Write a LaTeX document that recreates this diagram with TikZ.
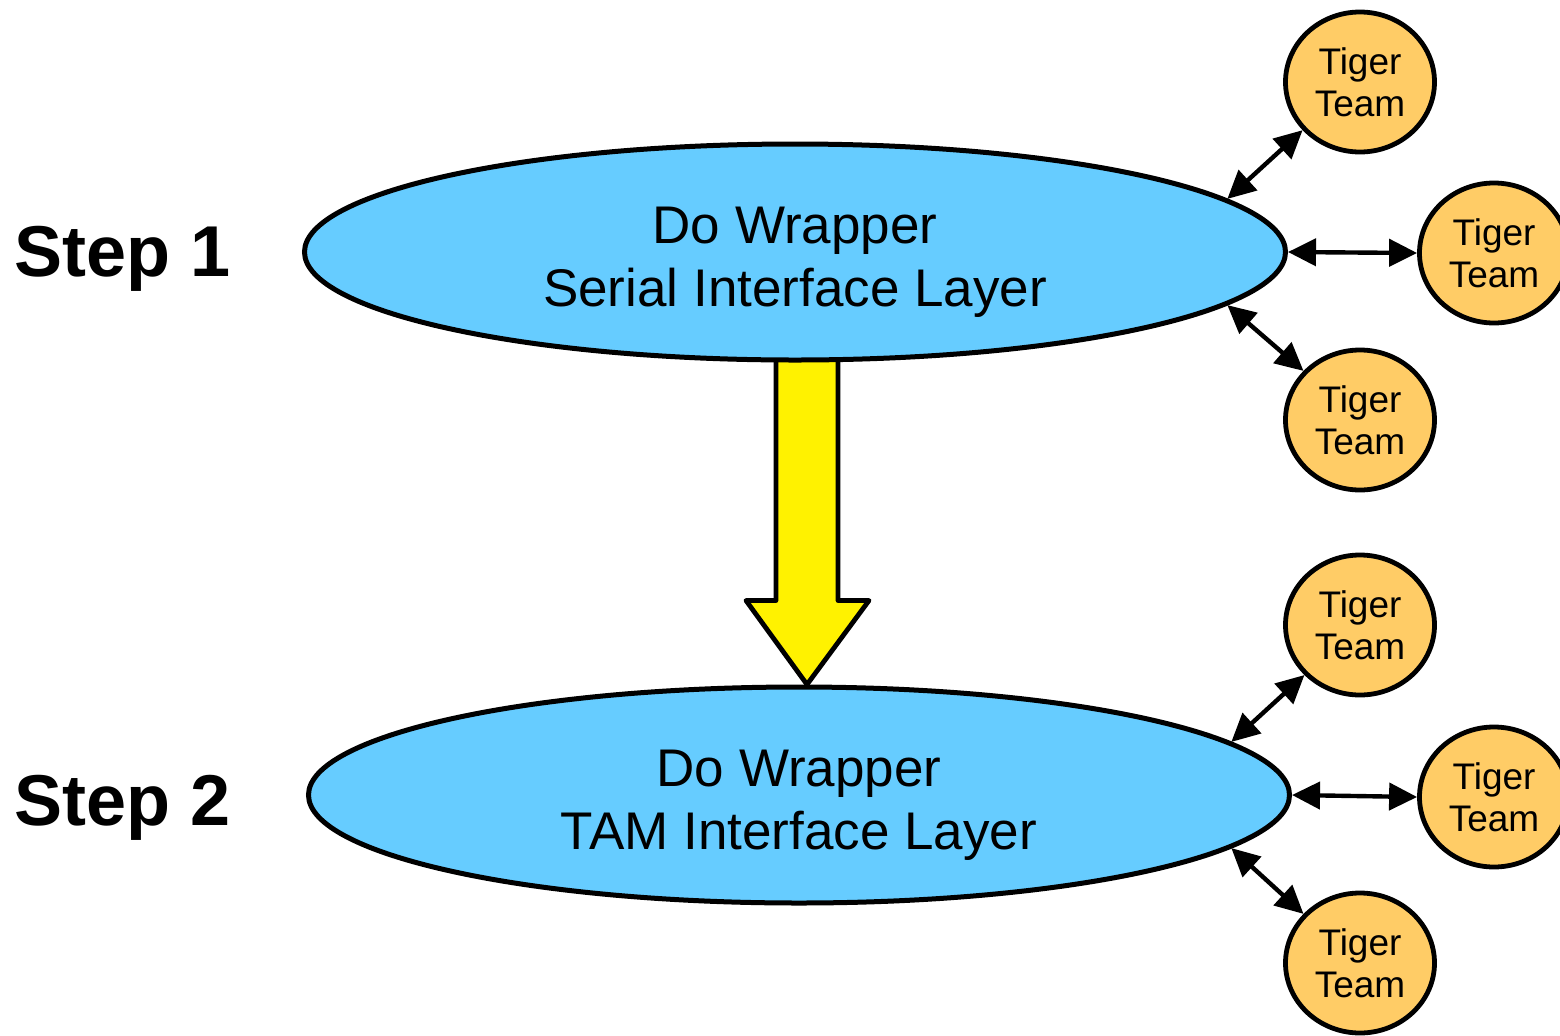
\documentclass[tikz,border=0pt]{standalone}
\usepackage{fontspec}
\setmainfont{Liberation Sans}
\usetikzlibrary{shapes.geometric,arrows.meta,calc,backgrounds}
\definecolor{wrapblue}{HTML}{66CCFF}
\definecolor{tigerorange}{HTML}{FFCC66}
\tikzset{
    layer/.style={ellipse,draw,line width=2.5pt,fill=wrapblue,inner sep=0pt,
        minimum width=490.5pt,minimum height=108pt,align=center,
        text height=60pt,text depth=6pt,
        font=\fontsize{26.5}{31.5}\selectfont},
    tiger/.style={ellipse,draw,line width=2.4pt,fill=tigerorange,inner sep=0pt,
        minimum width=74.5pt,minimum height=70pt,align=center,
        font=\fontsize{18.5}{21}\selectfont},
    link/.style={line width=2.2pt,{Triangle[length=14pt,width=13.5pt]}-{Triangle[length=14pt,width=13.5pt]}},
    bigarrow/.style={line width=2.4pt,fill=yellow,line join=round},
    steplabel/.style={anchor=base west,inner sep=0pt,
        font=\fontsize{36}{43}\selectfont\bfseries}
}
\begin{document}
\begin{tikzpicture}[x=0.5pt,y=-0.5pt]
        \useasboundingbox (0,0) rectangle (1560,1035);
        %% step labels
        \node[steplabel] (s1) at (14,276) {Step 1};
        \node[steplabel] (s2) at (14,825) {Step 2};
        %% wrapper layers
        \node[layer] (w1) at (795,252) {Do Wrapper\\Serial Interface Layer};
        \node[layer] (w2) at (799,795) {Do Wrapper\\TAM Interface Layer};
        %% tiger teams, step 1
        \node[tiger] (t11) at (1360,82) {Tiger\\Team};
        \node[tiger] (t12) at (1494,253) {Tiger\\Team};
        \node[tiger] (t13) at (1360,420) {Tiger\\Team};
        %% tiger teams, step 2
        \node[tiger] (t21) at (1360,625) {Tiger\\Team};
        \node[tiger] (t22) at (1494,797) {Tiger\\Team};
        \node[tiger] (t23) at (1360,963) {Tiger\\Team};
        %% links
        \draw[link] (w1.7) -- (t11.220);
        \draw[link] (w1.east) -- (t12.west);
        \draw[link] (w1.-7) -- (t13.139);
        \draw[link] (w2.7) -- (t21.222);
        \draw[link] (w2.east) -- (t22.west);
        \draw[link] (w2.-7) -- (t23.139);
        %% big arrow from step 1 to step 2
        \begin{pgfonlayer}{background}
            \coordinate (tip) at ($(w2.north)+(8,0)$);
            \coordinate (top) at (tip |- w1.center);
            \draw[bigarrow] ($(top)+(-31,0)$) -- ($(tip)+(-31,-84)$) -- ($(tip)+(-61,-84)$)
                -- (tip) -- ($(tip)+(62,-84)$) -- ($(tip)+(31,-84)$) -- ($(top)+(31,0)$) -- cycle;
        \end{pgfonlayer}
    \end{tikzpicture}
\end{document}
